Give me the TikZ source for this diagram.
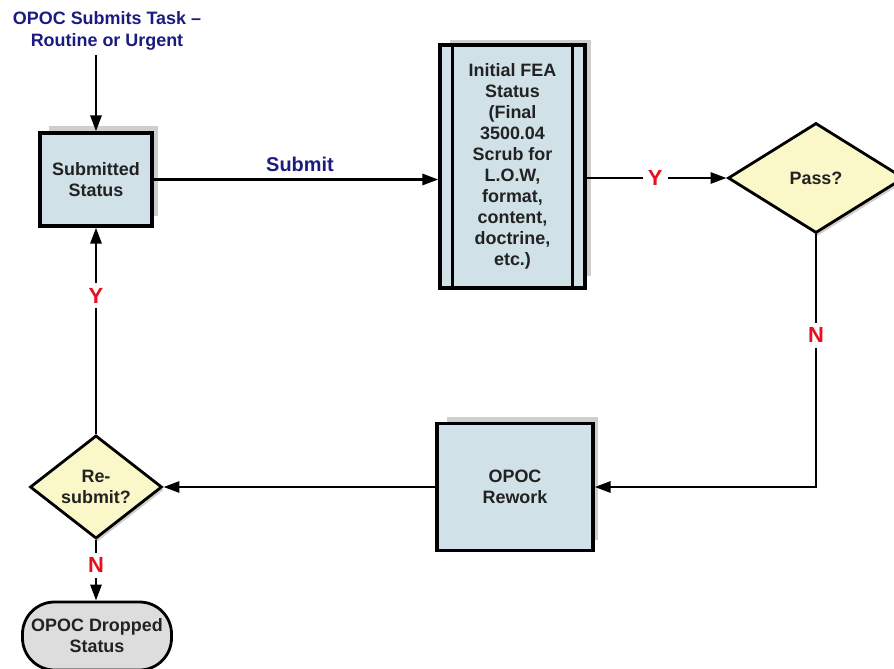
\documentclass[tikz,border=0pt]{standalone}
\usepackage{fontspec}
\setmainfont{Liberation Sans}
\usetikzlibrary{arrows.meta,shapes.geometric,shadows}
\definecolor{boxfill}{RGB}{208,225,231}
\definecolor{decfill}{RGB}{250,247,200}
\definecolor{endfill}{RGB}{221,221,221}
\definecolor{shade}{RGB}{206,206,206}
\definecolor{navy}{RGB}{28,28,128}
\definecolor{ynred}{RGB}{232,16,30}
\definecolor{txt}{RGB}{34,34,34}
\tikzset{
  flow/.style={line width=2.8bp, draw=black, -{Triangle[length=16bp,width=11bp]}},
  boxshadow/.style={copy shadow={shadow xshift=8bp, shadow yshift=9bp, shadow scale=0.97, fill=shade, draw=none}},
  procbox/.style={rectangle, draw=black, line width=3.2bp, fill=boxfill, text=txt,
    font=\bfseries\fontsize{18}{21}\selectfont, align=center, inner sep=0pt, boxshadow},
  decision/.style={diamond, draw=black, line width=2.8bp, fill=decfill, text=txt,
    font=\bfseries\fontsize{18}{21}\selectfont, align=center, inner sep=0pt,
    drop shadow={shadow xshift=2bp, shadow yshift=-3bp, fill=shade, opacity=1}},
  terminal/.style={rectangle, rounded corners=32bp, draw=black, line width=2.8bp, fill=endfill,
    text=txt, font=\bfseries\fontsize{18}{21}\selectfont, align=center, inner sep=0pt},
  yn/.style={fill=white, text=ynred, font=\bfseries\fontsize{22}{22}\selectfont, inner sep=5bp},
  navylabel/.style={text=navy, font=\bfseries\fontsize{18}{22}\selectfont, align=center}
}
\begin{document}
\begin{tikzpicture}[x=1bp,y=-1bp]
\clip (0,0) rectangle (894,669);
\fill[white] (0,0) rectangle (894,669);

% start label
\node[navylabel] (start) at (107,31) {OPOC Submits Task –\\Routine or Urgent};
\coordinate (startfoot) at (96,55);

% process boxes
\node[procbox, minimum width=112bp, minimum height=93bp] (sub) at (96,179.5) {Submitted\\Status};
\node[procbox, minimum width=145bp, minimum height=243bp] (fea) at (512.5,166.5)
  {Initial FEA\\Status\\ (Final\\3500.04\\Scrub for\\L.O.W,\\format,\\content,\\doctrine,\\etc.)};
\draw[line width=2.8bp] ([xshift=14bp]fea.north west) -- ([xshift=14bp]fea.south west);
\draw[line width=2.8bp] ([xshift=-14bp]fea.north east) -- ([xshift=-14bp]fea.south east);
\node[procbox, minimum width=156bp, minimum height=127bp] (rework) at (515,487) {OPOC\\Rework};

% decisions
\node[decision, minimum width=176bp, minimum height=110bp] (pass) at (816,178) {Pass?};
\node[decision, minimum width=132bp, minimum height=78bp] (resub) at (96,487) {Re-\\submit?};

% end state
\node[terminal, minimum width=149bp, minimum height=68bp] (drop) at (97,636) {OPOC Dropped\\Status};

% connectors
\draw[flow] (startfoot) -- (sub.north);
\draw[flow] (sub.east) -- (sub.east -| fea.west);
\node[navylabel, anchor=base, font=\bfseries\fontsize{20}{22}\selectfont] (submitlbl) at (300,172) {Submit};
\draw[flow] (fea.east |- pass.west) -- (pass.west)
  node[yn, pos=0.49] (ylbl1) {Y};
\draw[flow] (pass.south) |- (rework.east)
  node[yn, pos=0.2] (nlbl1) {N};
\draw[flow] (rework.west) -- (resub.east);
\draw[flow] (resub.north) -- (resub.north |- sub.south)
  node[yn, pos=0.67] (ylbl2) {Y};
\draw[flow] (resub.south) -- (resub.south |- drop.north)
  node[yn, pos=0.42] (nlbl2) {N};
\end{tikzpicture}
\end{document}
